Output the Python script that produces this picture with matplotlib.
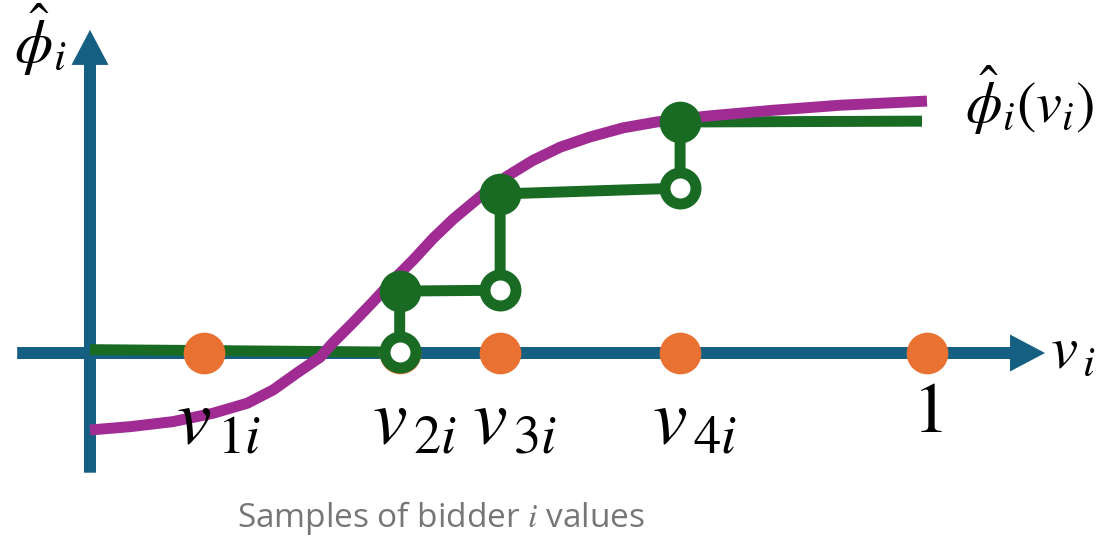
import matplotlib

matplotlib.use("Agg")
import matplotlib.pyplot as plt
import numpy as np

plt.rcParams["mathtext.fontset"] = "stix"

# bidder i value samples (v axis runs 0..1)
samples = [0.136, 0.370, 0.490, 0.705, 1.0]
sample_labels = [r"$v_{\,1i}$", r"$v_{\,2i}$", r"$v_{\,3i}$", r"$v_{\,4i}$", r"$1$"]

# smooth estimate phi_hat_i(v_i)
curve_v = [0.0, 0.048, 0.099, 0.147, 0.188, 0.219, 0.247, 0.275, 0.290, 0.314, 0.338,
           0.362, 0.386, 0.410, 0.434, 0.470, 0.498, 0.529, 0.562, 0.597, 0.637,
           0.677, 0.737, 0.816, 0.896, 1.0]
curve_phi = [-0.092, -0.088, -0.082, -0.072, -0.060, -0.044, -0.024, -0.005, 0.012,
             0.036, 0.061, 0.087, 0.111, 0.137, 0.160, 0.190, 0.211, 0.230, 0.246,
             0.258, 0.269, 0.276, 0.283, 0.290, 0.296, 0.301]

# empirical step function, jumps at v2, v3, v4
step_v = [0.0, 0.370, 0.370, 0.490, 0.490, 0.705, 0.705, 0.994]
step_phi = [0.004, 0.001, 0.074, 0.075, 0.190, 0.197, 0.276, 0.277]
open_idx = [1, 3, 5]
closed_idx = [2, 4, 6]

BLUE = "#156082"
ORANGE = "#E97132"
GREEN = "#196B24"
PURPLE = "#A02B93"

S = 837.0  # pixels per unit
fig = plt.figure(figsize=(11.02, 5.40), dpi=100)
ax = fig.add_axes([0, 0, 1, 1])
ax.set_xlim(-90 / S, 1012 / S)
ax.set_ylim(-187 / S, 353 / S)
ax.axis("off")

# axes arrows
aw = 12 / S
ax.arrow(-0.087, 0, 1.141 + 0.087, 0, width=aw, head_width=37 / S, head_length=35 / S,
         length_includes_head=True, color=BLUE, lw=0, zorder=1)
ax.arrow(0, -0.143, 0, 0.386 + 0.143, width=aw, head_width=37 / S, head_length=35 / S,
         length_includes_head=True, color=BLUE, lw=0, zorder=1)

lw = 7.9
step_v = np.array(step_v)
step_phi = np.array(step_phi)
ax.plot(step_v, step_phi, color=GREEN, lw=lw, solid_capstyle="butt", zorder=2)
ax.plot(curve_v, curve_phi, color=PURPLE, lw=lw, solid_capstyle="butt",
        solid_joinstyle="round", zorder=3)
ax.plot(samples, np.zeros(len(samples)), "o", color=ORANGE, ms=30, mew=0, zorder=4)
ax.plot(step_v[closed_idx], step_phi[closed_idx], "o", color=GREEN, ms=30, mew=0, zorder=5)
ax.plot(step_v[open_idx], step_phi[open_idx], "o", mfc="white", mec=GREEN,
        ms=22.3, mew=7.9, zorder=5)

# tick labels under the samples
for v, lab in zip(samples, sample_labels):
    if lab == r"$1$":
        ax.text(v, -0.094, lab, fontsize=52, ha="center", va="baseline")
    else:
        ax.text(v + 0.017, -0.1075, lab, fontsize=56, ha="center", va="baseline")

ax.text(1.147, -0.018, r"$v_{\,i}$", fontsize=44, ha="left", va="baseline")
ax.text(-0.06, 0.374, r"$\hat{\phi}_i$", fontsize=44, ha="center", va="center")
ax.text(1.123, 0.302, r"$\hat{\phi}_i(v_i)$", fontsize=42, ha="center", va="center")
ax.text(0.419, -0.197, r"Samples of bidder $i$ values", fontsize=24, color="#767676",
        family="Open Sans", ha="center", va="center")

fig.savefig("out.png", dpi=100)
